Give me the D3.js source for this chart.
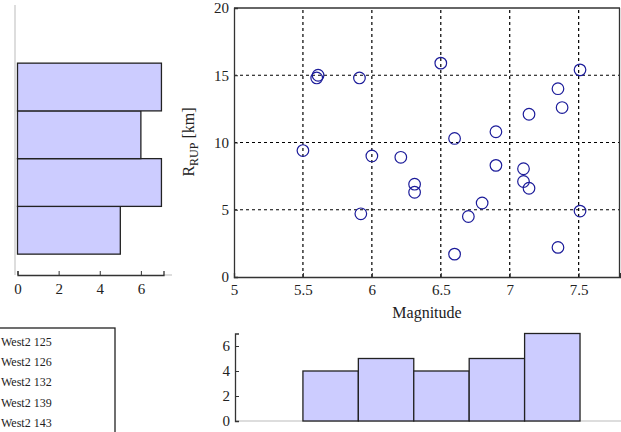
<!DOCTYPE html>
<html><head><meta charset="utf-8">
<script src="https://cdn.jsdelivr.net/npm/d3@7"></script>
<style>body{margin:0;background:#fff}svg{display:block}svg text{font-family:"Liberation Serif","DejaVu Serif","Times New Roman",serif !important;fill:#222}</style>
</head><body>
<script>
// Scatter data: Magnitude vs R_RUP [km]
const magnitude = [5.60,5.61,5.91,5.50,6.00,6.21,6.31,6.31,5.92,6.50,7.51,7.35,7.38,7.14,6.90,6.60,6.90,7.10,7.10,7.14,6.80,6.70,7.51,7.35,6.60];
const rrup      = [14.8,15.0,14.8,9.4,9.0,8.9,6.9,6.3,4.7,15.9,15.4,14.0,12.6,12.1,10.8,10.3,8.3,8.05,7.1,6.6,5.5,4.5,4.9,2.2,1.7];
// Histogram of R_RUP (left) : bin edges and counts
const rEdges  = [1.7,5.25,8.8,12.35,15.9];
const rCounts = [5,7,6,7];
// Histogram of magnitude (bottom)
const mEdges  = [5.5,5.902,6.304,6.706,7.108,7.51];
const mCounts = [4,5,4,5,7];
// Tick labels
const xTicks = [5,5.5,6,6.5,7,7.5];
const yTicks = [0,5,10,15,20];
const lhTicks = [0,2,4,6];
const bhTicks = [0,2,4,6];
// Legend entries
const legendItems = ["West2 125","West2 126","West2 132","West2 139","West2 143"];

const W=621,H=432;
const FONT='"Liberation Serif","DejaVu Serif",serif';
const svg=d3.select("body").append("svg").attr("width",W).attr("height",H);
const fill="#ccccff", stroke="#222";

function styleAxis(a){
  a.attr("font-family",FONT);
  a.select(".domain").attr("stroke","#333").attr("stroke-width",1.3);
  a.selectAll(".tick line").attr("stroke","#333");
  a.selectAll("text").attr("font-family",FONT).style("font-size","15px").attr("fill","#222");
}

// ---------- Scatter ----------
const x=d3.scaleLinear().domain([5,7.8]).range([234,620]);
const y=d3.scaleLinear().domain([0,20]).range([277,8]);
const g=svg.append("g");
g.selectAll(".gx").data(xTicks.filter(d=>d>5)).join("line")
  .attr("x1",d=>x(d)).attr("x2",d=>x(d)).attr("y1",y(0)).attr("y2",y(20))
  .attr("stroke","#000").attr("stroke-width",1.2).attr("stroke-dasharray","3,3");
g.selectAll(".gy").data(yTicks.filter(d=>d>0&&d<20)).join("line")
  .attr("y1",d=>y(d)).attr("y2",d=>y(d)).attr("x1",x(5)).attr("x2",x(7.8))
  .attr("stroke","#000").attr("stroke-width",1.2).attr("stroke-dasharray","3,3");
const xa=g.append("g").attr("transform",`translate(0,${y(0)})`)
  .call(d3.axisBottom(x).tickValues(xTicks).tickSize(-4).tickPadding(7).tickFormat(d3.format("")));
const ya=g.append("g").attr("transform",`translate(${x(5)},0)`)
  .call(d3.axisLeft(y).tickValues(yTicks).tickSize(-4).tickPadding(5));
styleAxis(xa); styleAxis(ya);
g.append("line").attr("x1",x(5)).attr("x2",x(7.8)).attr("y1",y(20)).attr("y2",y(20)).attr("stroke","#333").attr("stroke-width",1.3);
g.append("line").attr("x1",x(7.8)-0.5).attr("x2",x(7.8)-0.5).attr("y1",y(20)).attr("y2",y(0)).attr("stroke","#333").attr("stroke-width",1.3);
g.selectAll("circle").data(magnitude.map((m,i)=>[m,rrup[i]])).join("circle")
  .attr("cx",d=>x(d[0])).attr("cy",d=>y(d[1])).attr("r",5.8)
  .attr("fill","none").attr("stroke","#1c1c9a").attr("stroke-width",1.2);
g.append("text").attr("x",427).attr("y",318).attr("text-anchor","middle").attr("font-family",FONT).style("font-size","16px").text("Magnitude");
const yl=g.append("text").attr("transform",`translate(194,142) rotate(-90)`).attr("text-anchor","middle").attr("font-family",FONT).style("font-size","16px");
yl.append("tspan").text("R");
yl.append("tspan").attr("dy",4).style("font-size","12px").text("RUP");
yl.append("tspan").attr("dy",-4).text(" [km]");

// ---------- Left histogram ----------
const lx=d3.scaleLinear().domain([0,7.1]).range([17.5,163.5]);
const lg=svg.append("g");
lg.append("line").attr("x1",15).attr("x2",15).attr("y1",5).attr("y2",275).attr("stroke","#bbb");
lg.append("line").attr("x1",163).attr("x2",172).attr("y1",275).attr("y2",275).attr("stroke","#bbb");
lg.selectAll("rect").data(rCounts).join("rect")
  .attr("x",lx(0)).attr("width",d=>lx(d)-lx(0))
  .attr("y",(d,i)=>y(rEdges[i+1])).attr("height",(d,i)=>y(rEdges[i])-y(rEdges[i+1]))
  .attr("fill",fill).attr("stroke",stroke).attr("stroke-width",1.3);
const lxa=lg.append("g").attr("transform","translate(0,275)")
  .call(d3.axisBottom(lx).tickValues(lhTicks).tickSize(-4).tickPadding(8).tickFormat(d3.format("d")));
styleAxis(lxa);

// ---------- Bottom histogram ----------
const by=d3.scaleLinear().domain([0,7]).range([421,333.5]);
const bg=svg.append("g");
bg.append("line").attr("x1",235).attr("x2",621).attr("y1",421).attr("y2",421).attr("stroke","#bbb");
bg.selectAll("rect").data(mCounts).join("rect")
  .attr("x",(d,i)=>x(mEdges[i])).attr("width",(d,i)=>x(mEdges[i+1])-x(mEdges[i]))
  .attr("y",d=>by(d)).attr("height",d=>by(0)-by(d))
  .attr("fill",fill).attr("stroke",stroke).attr("stroke-width",1.3);
const bya=bg.append("g").attr("transform","translate(235,0)")
  .call(d3.axisLeft(by).tickValues(bhTicks).tickSize(-4).tickPadding(5).tickFormat(d3.format("d")));
styleAxis(bya);

// ---------- Legend box ----------
const lgd=svg.append("g");
lgd.append("rect").attr("x",-5).attr("y",328).attr("width",120).attr("height",120)
  .attr("fill","#fff").attr("stroke","#222").attr("stroke-width",1.3);
lgd.selectAll("text").data(legendItems).join("text")
  .attr("x",1).attr("y",(d,i)=>345.5+i*20.4).attr("font-family",FONT).style("font-size","12px").text(d=>d);
</script>
</body></html>
